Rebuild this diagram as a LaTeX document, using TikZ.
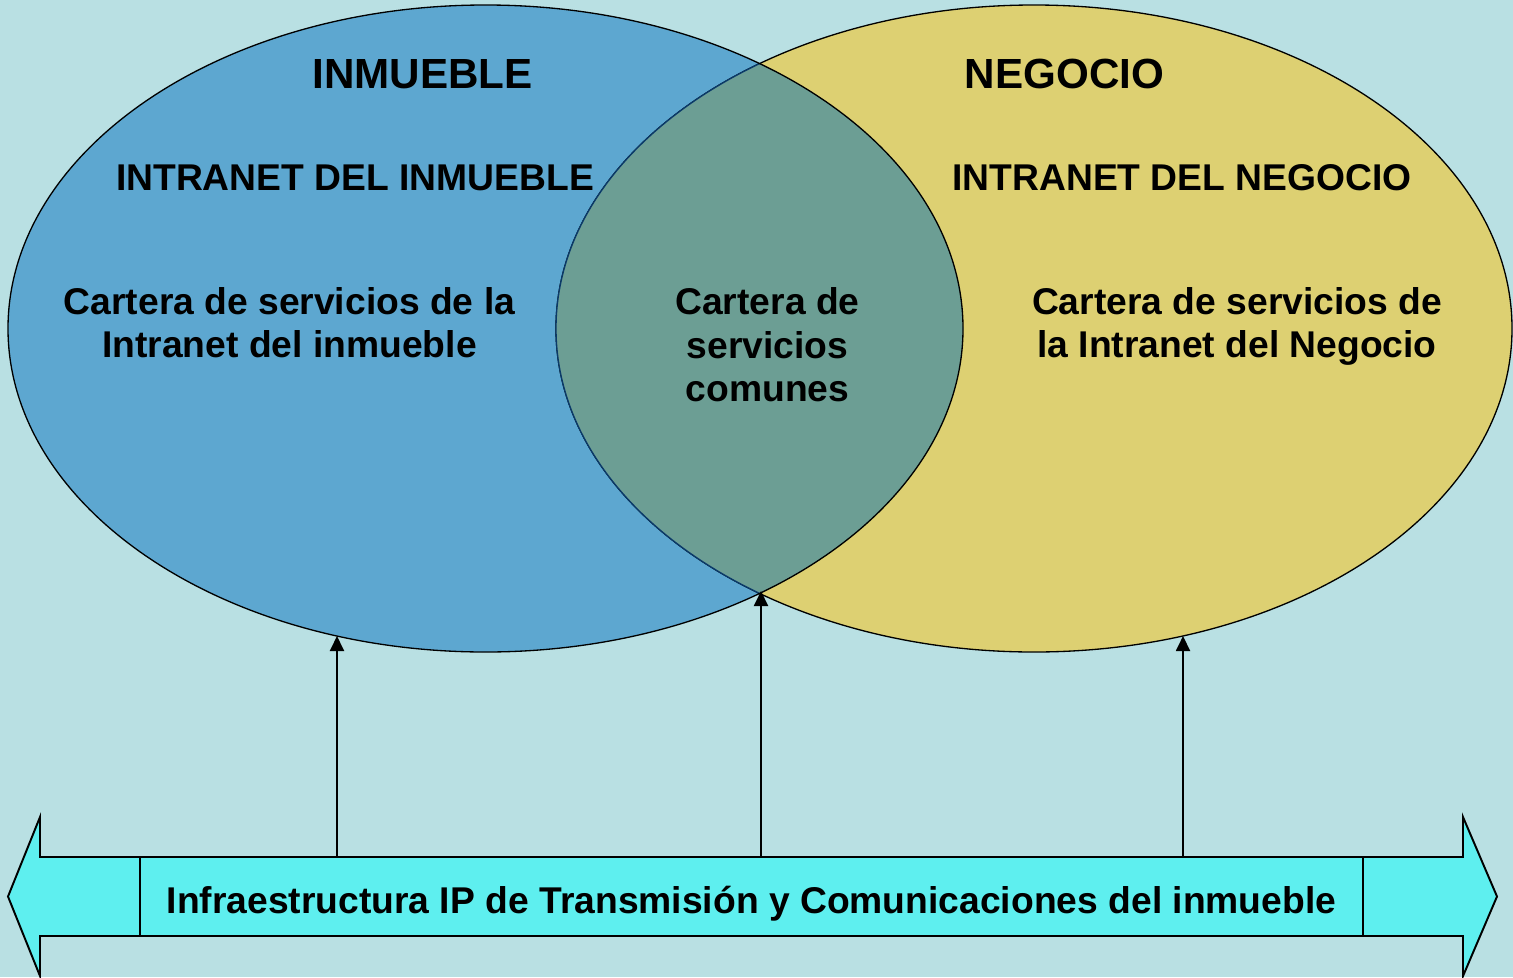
\documentclass[tikz,border=0pt]{standalone}
\usepackage{fontspec}
\setmainfont{Liberation Sans}
\usetikzlibrary{arrows.meta}
\definecolor{fondo}{HTML}{B9E0E3}
\definecolor{azul}{HTML}{5DA7D0}
\definecolor{amarillo}{HTML}{DDD072}
\definecolor{comun}{HTML}{6C9E94}
\definecolor{marino}{HTML}{0A3A6A}
\definecolor{cian}{HTML}{5EEFEF}
\tikzset{
  titulo/.style={font=\fontsize{24}{28}\selectfont\bfseries, anchor=base, inner sep=0pt},
  texto/.style={font=\fontsize{21.2}{24.75}\selectfont\bfseries, align=center, inner sep=0pt},
  flecha/.style={-{Triangle[length=0.3cm,width=0.28cm]}, line width=1.1pt}
}
\begin{document}
\begin{tikzpicture}[x=0.02cm,y=-0.02cm]
  % fondo
  \fill[fondo] (0,0) rectangle (1513,977);
  \useasboundingbox (0,0) rectangle (1513,977);
  % two ellipses and the common part
  \fill[amarillo] (1034,328.5) ellipse [x radius=478, y radius=323.5];
  \fill[azul] (485.5,328.5) ellipse [x radius=477.5, y radius=323.5];
  \draw[line width=0.75pt] (1034,328.5) ellipse [x radius=478, y radius=323.5];
  \begin{scope}
    \clip (485.5,328.5) ellipse [x radius=477.5, y radius=323.5];
    \fill[comun] (1034,328.5) ellipse [x radius=478, y radius=323.5];
    \draw[marino, line width=0.75pt] (1034,328.5) ellipse [x radius=478, y radius=323.5];
  \end{scope}
  \draw[line width=0.75pt] (485.5,328.5) ellipse [x radius=477.5, y radius=323.5];
  % texts
  \node[titulo] (inmueble) at (422.5,88) {INMUEBLE};
  \node[titulo] (negocio) at (1064.5,88) {NEGOCIO};
  \node[texto, anchor=base] (intranetI) at (355,190) {INTRANET DEL INMUEBLE};
  \node[texto, anchor=base] (intranetN) at (1182,190) {INTRANET DEL NEGOCIO};
  \node[texto] (carteraI) at (289.5,322.5) {Cartera de servicios de la\\Intranet del inmueble};
  \node[texto] (comunes) at (767.5,345) {Cartera de\\servicios\\comunes};
  \node[texto] (carteraN) at (1237,326.5) {Cartera de servicios de\\la Intranet del Negocio};
  % double arrow
  \filldraw[fill=cian, line width=1.1pt] (8,896.5) -- (40,817) -- (40,857) -- (1463,857)
    -- (1463,817) -- (1497,896.5) -- (1463,976) -- (1463,936) -- (40,936) -- (40,976) -- cycle;
  \node[texto, draw, fill=cian, line width=1.1pt, minimum width=24.46cm, minimum height=1.58cm,
    text height=2.1em, text depth=0.21em] (infra) at (751.5,896.5)
    {Infraestructura IP de Transmisión y Comunicaciones del inmueble};
  % three arrows
  \coordinate (tipI) at (337,636);
  \coordinate (tipC) at (761,591);
  \coordinate (tipN) at (1183,636);
  \draw[flecha] (infra.north -| tipI) -- (tipI);
  \draw[flecha] (infra.north -| tipC) -- (tipC);
  \draw[flecha] (infra.north -| tipN) -- (tipN);
\end{tikzpicture}
\end{document}
